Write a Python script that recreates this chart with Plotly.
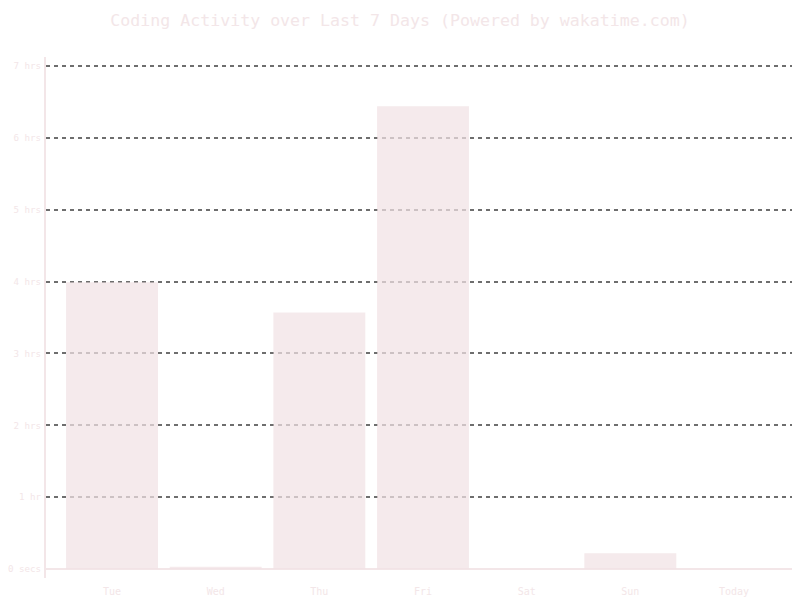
import plotly.graph_objects as go

days = ["Tue", "Wed", "Thu", "Fri", "Sat", "Sun", "Today"]
hours = [3.99, 0.03, 3.57, 6.44, 0.0, 0.22, 0.0]

tick_vals = [0, 1, 2, 3, 4, 5, 6, 7]
tick_text = ["0 secs", "1 hr", "2 hrs", "3 hrs", "4 hrs", "5 hrs", "6 hrs", "7 hrs"]

pink = "#f3e6e8"
mono = "DejaVu Sans Mono"

fig = go.Figure()
fig.add_bar(
    x=list(range(len(days))),
    y=hours,
    marker=dict(color="rgba(241,226,228,0.72)", line=dict(width=0)),
    width=0.887,
)

# page body has an 8px margin, so the figure is offset a bit
fig.update_layout(
    width=800,
    height=600,
    paper_bgcolor="white",
    plot_bgcolor="white",
    margin=dict(l=38, r=0, t=49, b=30, autoexpand=False),
    showlegend=False,
    title=dict(
        text="Coding Activity over Last 7 Days (Powered by wakatime.com)",
        x=0.49,
        xref="container",
        xanchor="center",
        y=0.98,
        yanchor="middle",
        font=dict(family=mono, size=16.6, color=pink),
    ),
)

fig.update_xaxes(
    range=[-0.637, 6.714],
    tickvals=list(range(len(days))),
    ticktext=days,
    showgrid=False,
    showline=False,
    zeroline=False,
    ticks="",
    automargin=False,
    tickfont=dict(family=mono, size=10, color=pink),
    ticklabelstandoff=6,
)

fig.update_yaxes(
    range=[-0.125, 7.125],
    tickvals=tick_vals,
    ticktext=tick_text,
    showgrid=True,
    gridcolor="#6e6e6e",
    gridwidth=1.5,
    griddash="4px,4px",
    zeroline=True,
    zerolinecolor=pink,
    zerolinewidth=2,
    showline=True,
    linecolor=pink,
    linewidth=2,
    ticks="",
    automargin=False,
    tickfont=dict(family=mono, size=9.2, color=pink),
    ticklabelstandoff=1,
)

fig.write_html("out.html")
